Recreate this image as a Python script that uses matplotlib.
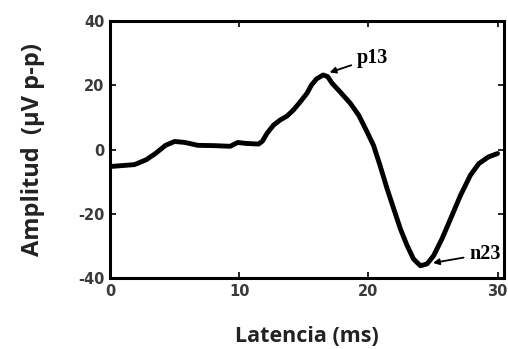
import numpy as np
import matplotlib
matplotlib.use('Agg')
import matplotlib.pyplot as plt

plt.rcParams['axes.unicode_minus'] = False

# latencia (ms) y amplitud (uV)
latencia = [0, 1.9, 2.8, 3.5, 4.3, 5.0, 5.8, 6.8, 8.1, 9.3, 9.9, 10.5, 11.5, 11.8,
            12.15, 12.66, 13.18, 13.7, 14.2, 14.7, 15.25, 15.6, 16.0, 16.5, 16.85,
            17.2, 17.8, 18.6, 19.25, 19.8, 20.4, 20.9, 21.45, 21.96, 22.48, 23.0,
            23.5, 24.03, 24.55, 25.06, 25.7, 26.36, 27.13, 27.9, 28.55, 29.3, 30.0]
amplitud = [-5.3, -4.7, -3.2, -1.3, 1.3, 2.5, 2.2, 1.3, 1.2, 1.0, 2.2, 1.9, 1.7, 2.6,
            5.0, 7.6, 9.2, 10.4, 12.3, 14.7, 17.5, 20.1, 22.0, 23.2, 22.7,
            20.6, 18.0, 14.4, 10.7, 6.3, 1.3, -4.9, -12.2, -18.4, -24.7, -29.9,
            -34.1, -36.2, -35.6, -33.0, -27.8, -21.6, -14.3, -8.0, -4.4, -2.3, -1.25]

xticks = [0, 10, 20, 30]
yticks = [-40, -20, 0, 20, 40]

fig = plt.figure(figsize=(5.08, 3.49), dpi=100)
ax = fig.add_axes([0.2165, 0.2034, 0.7756, 0.7364])

ax.plot(latencia, amplitud, color='black', lw=3.5, solid_joinstyle='round', solid_capstyle='round')

ax.set_xlim(0, 30.5)
ax.set_ylim(-40, 40)
ax.set_xticks(xticks)
ax.set_yticks(yticks)
ax.tick_params(direction='in', length=4, width=1.2, top=True, right=True,
               labelsize=10.5, labelcolor='#3a3a3a', pad=4)
for lab in ax.get_xticklabels() + ax.get_yticklabels():
    lab.set_fontweight('bold')
for s in ax.spines.values():
    s.set_linewidth(2.2)

ax.set_xlabel('Latencia (ms)', fontsize=15.5, fontweight='bold', family='Open Sans', color='#222222', labelpad=20)
ax.set_ylabel('Amplitud  (µV p-p)', fontsize=17, fontweight='bold', family='Open Sans', color='#222222', labelpad=24)

# picos
ax.annotate('p13', xy=(17.0, 24.0), xytext=(19.1, 28.4), fontsize=14.5, fontweight='bold', family='Liberation Serif',
            va='center', ha='left',
            arrowprops=dict(arrowstyle='-|>', color='black', lw=1.3, mutation_scale=9, shrinkA=2, shrinkB=0))
ax.annotate('n23', xy=(25.0, -35.3), xytext=(27.8, -32.5), fontsize=14.5, fontweight='bold', family='Liberation Serif',
            va='center', ha='left',
            arrowprops=dict(arrowstyle='-|>', color='black', lw=1.3, mutation_scale=9, shrinkA=2, shrinkB=0))

fig.savefig('out.png', dpi=100)
